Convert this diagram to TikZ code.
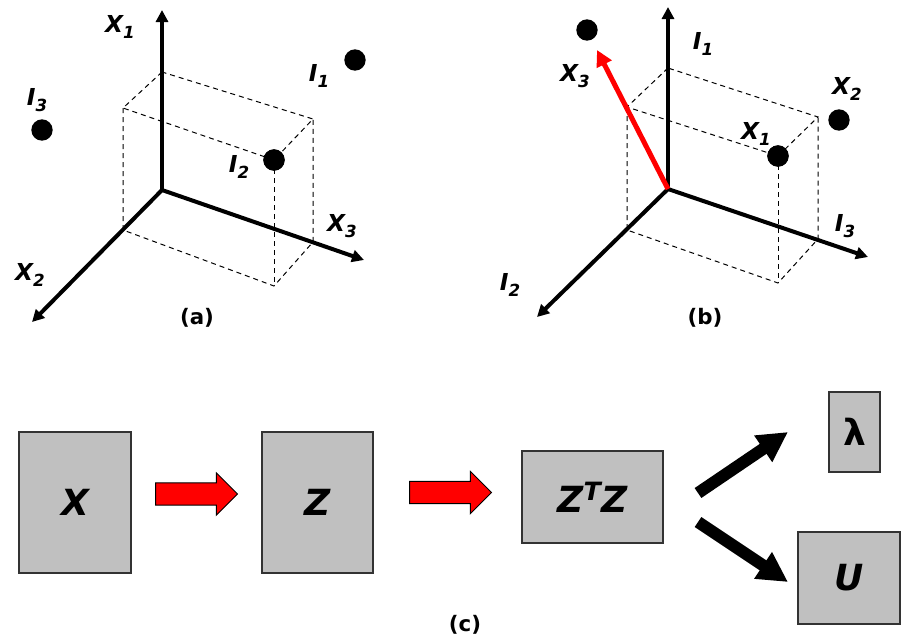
\documentclass[tikz,border=0pt]{standalone}
\usepackage{fontspec}
\setmainfont{DejaVu Sans}
\usetikzlibrary{arrows.meta,shapes.arrows}

\definecolor{boxgray}{RGB}{192,192,192}
\newcommand{\idx}[2]{#1\raisebox{-4pt}{\fontsize{12.5}{12.5}\selectfont #2}}

\tikzset{every picture/.style={line width=0.75pt}}
\tikzset{
  axis/.style={line width=3pt,-{Triangle[length=9pt,width=9pt]}},
  guide/.style={dash pattern={on 3.75pt off 3pt},line width=0.75pt},
  dot/.style={circle,fill=black,minimum size=16pt,inner sep=0pt},
  lbl/.style={inner sep=0.75pt,font=\fontsize{17.5}{19}\selectfont\bfseries\itshape},
  panel/.style={inner sep=0.75pt,font=\fontsize{16}{18}\selectfont\bfseries},
  mat/.style={draw=black!80,fill=boxgray,line width=1pt,inner sep=0pt,
    font=\fontsize{27}{30}\selectfont\bfseries\itshape},
  redarrow/.style={single arrow,draw=black,fill=red,line width=0.75pt,
    inner xsep=0pt,inner ysep=7.9pt,minimum height=61.5pt,anchor=tail,
    single arrow head extend=7.5pt,single arrow tip angle=90},
  bigarrow/.style={line width=9pt,-{Triangle[length=22.5pt,width=22.5pt]}}
}

\begin{document}
\begin{tikzpicture}[x=0.75pt,y=0.75pt,yscale=-1,xscale=1]
\useasboundingbox (0,0) rectangle (901,637);

% (a) axes
\coordinate (oa) at (162,190);
\coordinate (x1a) at (162,10);
\coordinate (x2a) at (32,322);
\coordinate (x3a) at (364,260);
% (a) box
\coordinate (aa) at (162,72);
\coordinate (ab) at (123,108);
\coordinate (ad) at (313,119);
\coordinate (abb) at (123,230);
\coordinate (acc) at (274,286);
\coordinate (add) at (313,242);
\node[dot] (i2a) at (274,160) {};
\node[dot] (i1a) at (355,60) {};
\node[dot] (i3a) at (42,130) {};

\draw[guide] (aa) -- (ab) -- (i2a.center) -- (ad) -- cycle;
\draw[guide] (ab) -- (abb) -- (acc) -- (add) -- (ad);
\draw[guide] (i2a.center) -- (acc);
\node[dot] at (i2a) {};

\draw[axis] (oa) -- (x1a);
\draw[axis] (oa) -- (x2a);
\draw[axis] (oa) -- (x3a);

% Text Node
\node[lbl] (lx1a) at (120,27) {\idx{X}{1}};
\node[lbl] (li1a) at (319,76) {\idx{I}{1}};
\node[lbl] (li3a) at (37,100) {\idx{I}{3}};
\node[lbl] (li2a) at (239,167) {\idx{I}{2}};
\node[lbl] (lx3a) at (342,226) {\idx{X}{3}};
\node[lbl] (lx2a) at (30,275) {\idx{X}{2}};
\node[panel] (capa) at (197,318) {(a)};

% (b) axes
\coordinate (ob) at (668,189);
\coordinate (i1b) at (668,7);
\coordinate (i2b) at (537,317);
\coordinate (i3b) at (868,257);
% (b) box
\coordinate (ba) at (668,68);
\coordinate (bb) at (627,107);
\coordinate (bd) at (818,117);
\coordinate (bbb) at (627,230);
\coordinate (bcc) at (778,283);
\coordinate (bdd) at (818,239);
\node[dot] (x1b) at (778,156) {};
\node[dot] (x2b) at (839,120) {};
\node[dot] (x3b) at (587,30) {};
\coordinate (redtip) at (597,50);

\draw[guide] (ba) -- (bb) -- (x1b.center) -- (bd) -- cycle;
\draw[guide] (bb) -- (bbb) -- (bcc) -- (bdd) -- (bd);
\draw[guide] (x1b.center) -- (bcc);
\node[dot] at (x1b) {};

\draw[axis] (ob) -- (i1b);
\draw[axis] (ob) -- (i2b);
\draw[axis] (ob) -- (i3b);
\draw[red,line width=3.75pt,-{Triangle[length=12pt,width=12pt]}] (ob) -- (redtip);

% Text Node
\node[lbl] (li1b) at (703,44) {\idx{I}{1}};
\node[lbl] (lx3b) at (575,76) {\idx{X}{3}};
\node[lbl] (lx2b) at (847,89) {\idx{X}{2}};
\node[lbl] (lx1b) at (756,134) {\idx{X}{1}};
\node[lbl] (li3b) at (845,226) {\idx{I}{3}};
\node[lbl] (li2b) at (510,285) {\idx{I}{2}};
\node[panel] (capb) at (705,318) {(b)};

% (c) flow
\node[mat,minimum width=84pt,minimum height=105.75pt] (xmat) at (75,502.5) {X};
\node[mat,minimum width=83.25pt,minimum height=105.75pt] (zmat) at (317.5,502.5) {Z};
\node[mat,minimum width=105.75pt,minimum height=69pt] (ztz) at (592.5,497) {Z\textsuperscript{T}Z};
\node[mat,font=\fontsize{27}{30}\selectfont\bfseries,minimum width=38.25pt,minimum height=60pt] (lam) at (854.5,432) {λ};
\node[mat,minimum width=76.5pt,minimum height=69pt] (umat) at (849,578) {U};

\node[redarrow] (ra1) at (155,494) {};
\node[redarrow] (ra2) at (409,492.5) {};

\coordinate (up0) at (698,493);
\coordinate (up1) at (788,432);
\coordinate (dn0) at (698,522);
\coordinate (dn1) at (788,582);
\draw[bigarrow] (up0) -- (up1);
\draw[bigarrow] (dn0) -- (dn1);

\node[panel] (capc) at (465,625) {(c)};
\end{tikzpicture}
\end{document}
